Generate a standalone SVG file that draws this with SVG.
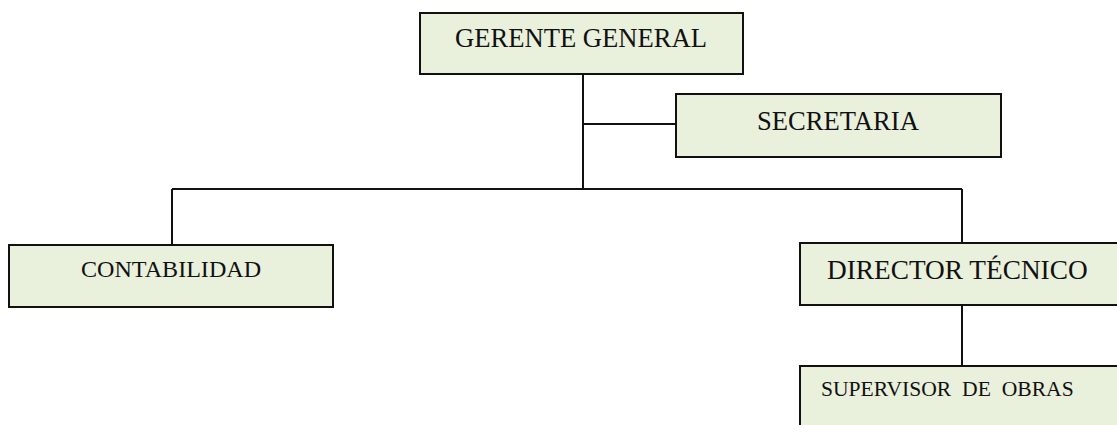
<svg xmlns="http://www.w3.org/2000/svg" width="1117" height="425" viewBox="0 0 1117 425">
<style>
.box{fill:#e9f0dc;stroke:#111;stroke-width:2}
.lbl{font-family:"Liberation Serif","Times New Roman",serif;fill:#111}
.con{stroke:#111;stroke-width:2;fill:none}
</style>
<rect width="1117" height="425" fill="#fff"/>
<g id="connectors">
<line class="con" x1="583" y1="74" x2="583" y2="189"/>
<line class="con" x1="583" y1="124" x2="676" y2="124"/>
<line class="con" x1="172" y1="189" x2="962" y2="189"/>
<line class="con" x1="172" y1="189" x2="172" y2="245"/>
<line class="con" x1="962" y1="189" x2="962" y2="243"/>
<line class="con" x1="962" y1="305" x2="962" y2="366"/>
</g>
<g id="gerente">
<rect class="box" x="420" y="13" width="323" height="61"/>
<text class="lbl" x="455" y="47" font-size="26.6" textLength="252">GERENTE GENERAL</text>
</g>
<g id="secretaria">
<rect class="box" x="676" y="94" width="325" height="63"/>
<text class="lbl" x="757" y="130" font-size="26.6">SECRETARIA</text>
</g>
<g id="contabilidad">
<rect class="box" x="9" y="245" width="324" height="62"/>
<text class="lbl" x="81" y="277" font-size="24.1">CONTABILIDAD</text>
</g>
<g id="director">
<rect class="box" x="800" y="243" width="330" height="62"/>
<text class="lbl" x="827" y="279" font-size="27.3">DIRECTOR TÉCNICO</text>
</g>
<g id="supervisor">
<rect class="box" x="800" y="366" width="330" height="70"/>
<text class="lbl" x="821" y="396" font-size="21.6" xml:space="preserve">SUPERVISOR  DE  OBRAS</text>
</g>
</svg>
